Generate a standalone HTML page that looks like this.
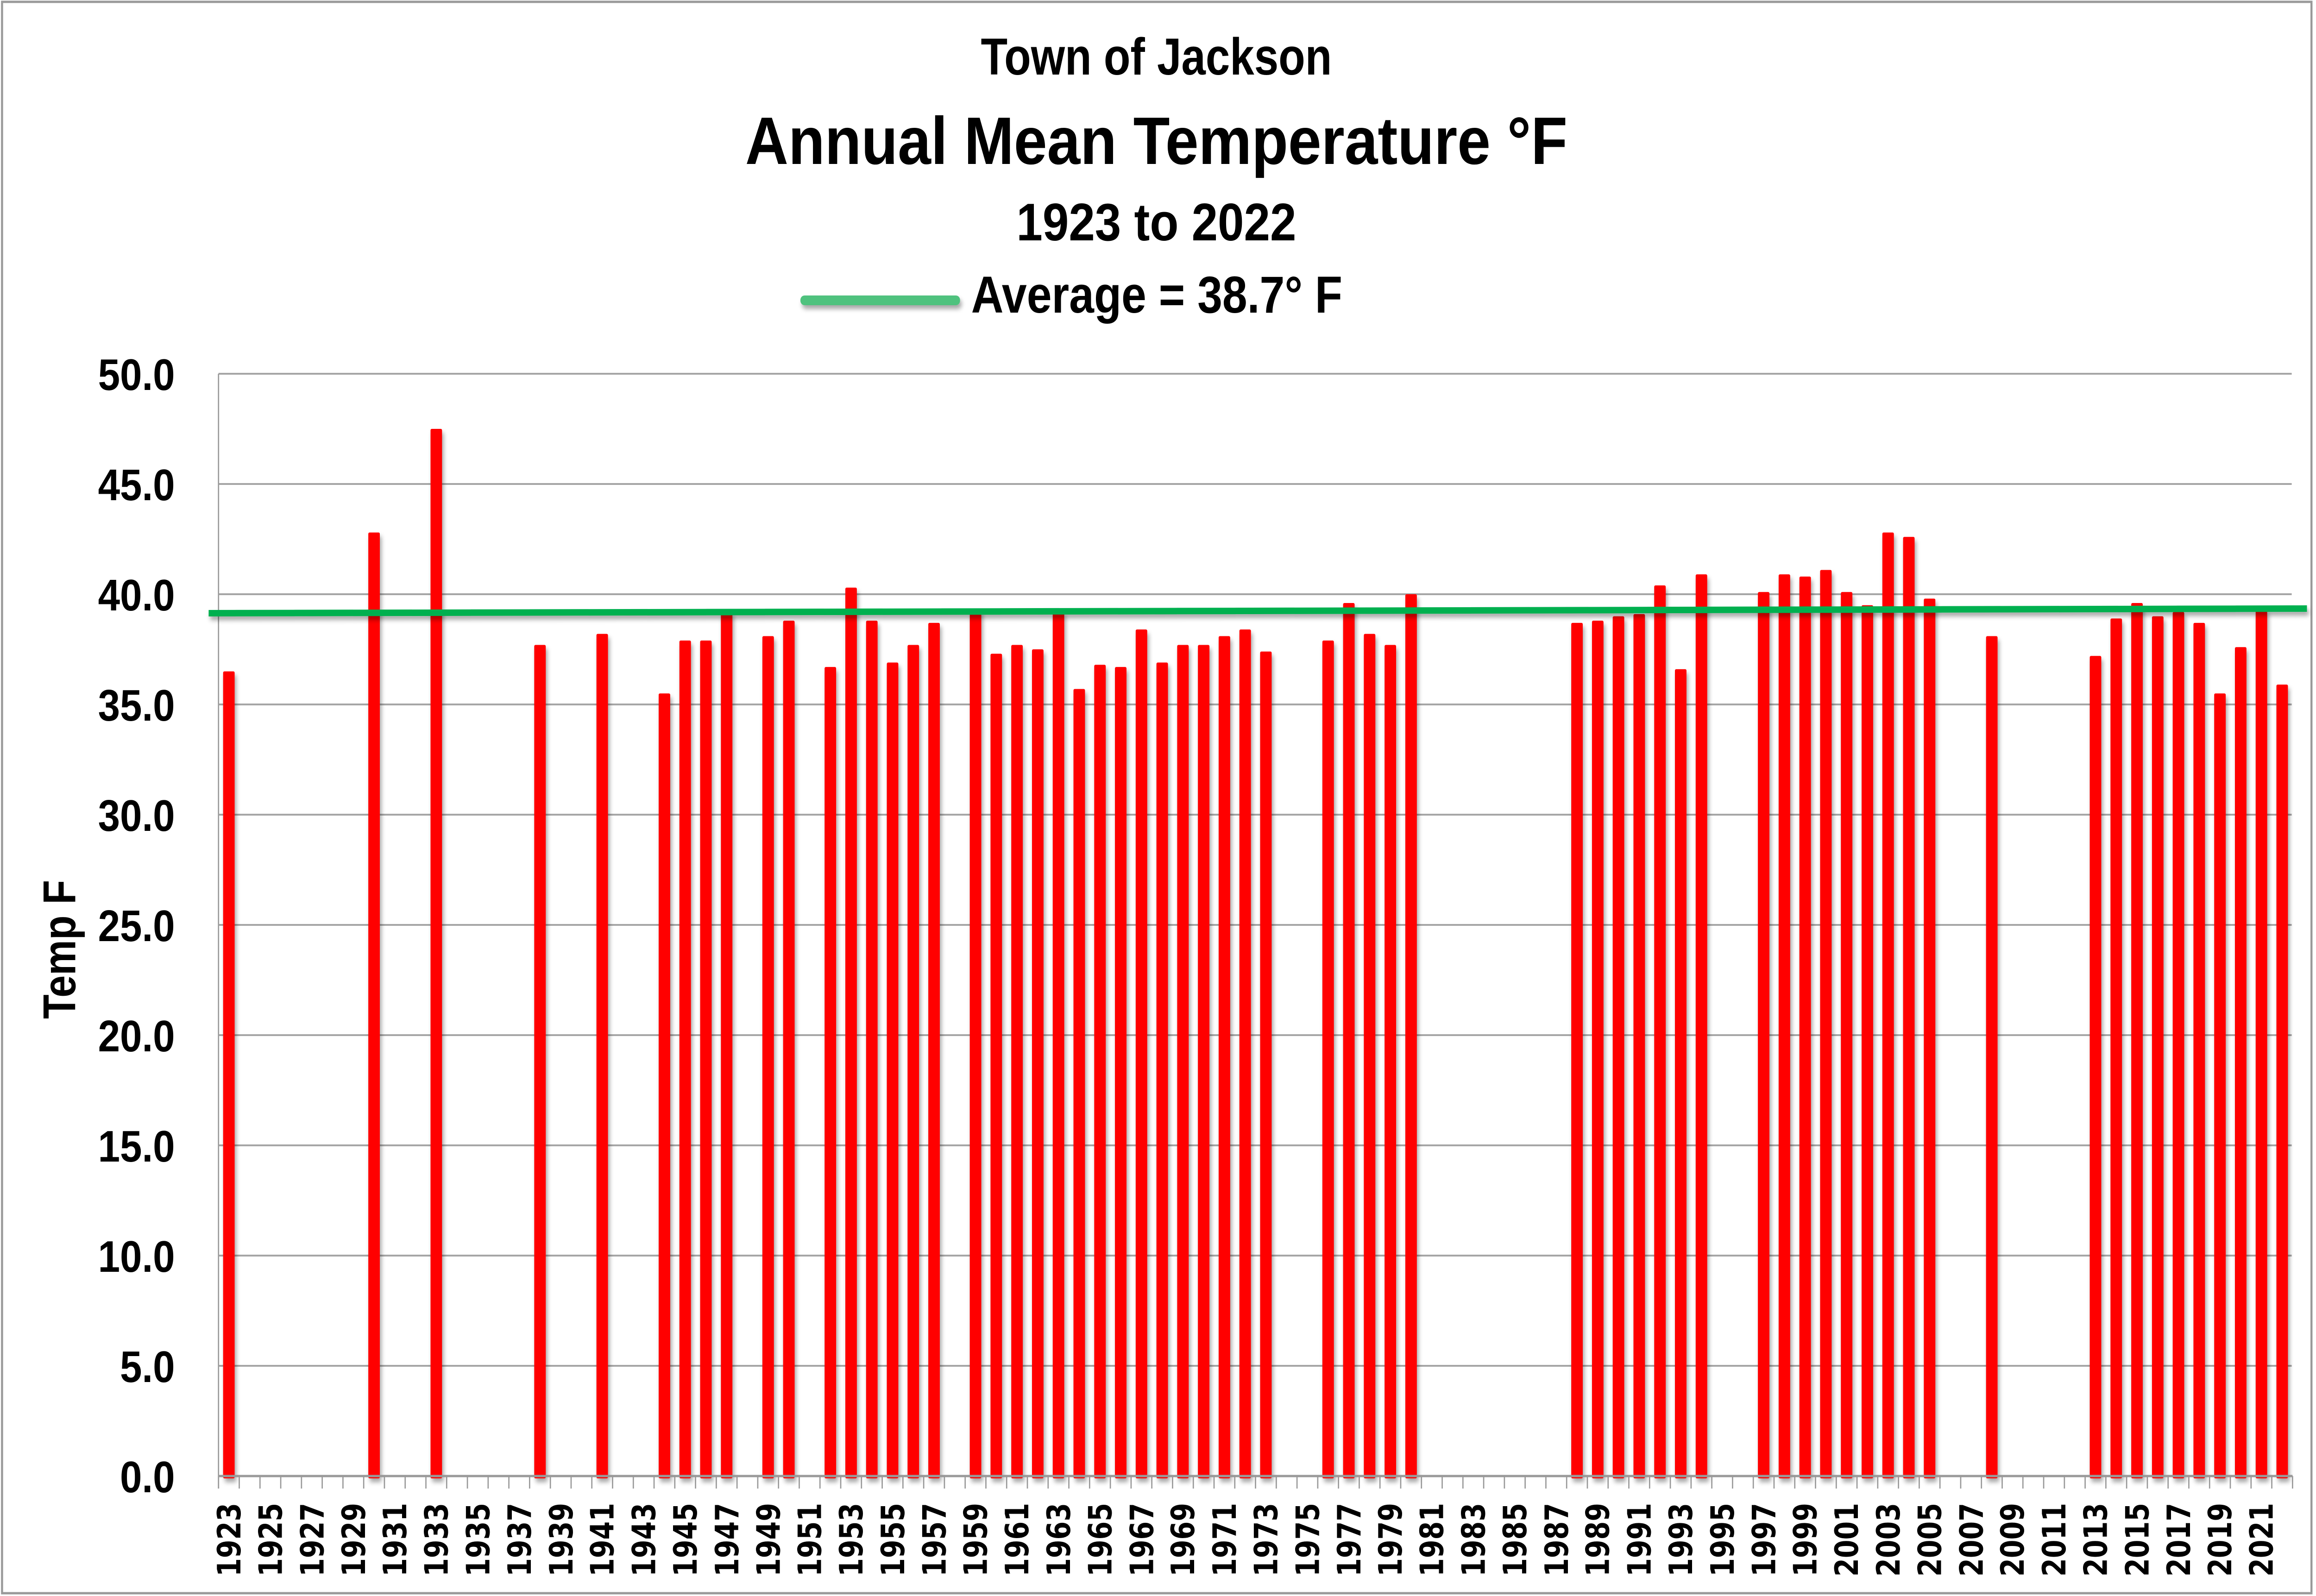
<!DOCTYPE html>
<html><head><meta charset="utf-8"><meta name="viewport" content="width=5628"><style>html,body{margin:0;padding:0;background:#fff;overflow:hidden;width:100%;height:100%}svg{display:block;width:100vw;height:100vh}</style></head>
<body>
<svg viewBox="0 0 5628 3446" preserveAspectRatio="none" xmlns="http://www.w3.org/2000/svg" font-family="Liberation Sans, sans-serif" font-weight="bold">
<defs>
<filter id="sh" filterUnits="userSpaceOnUse" x="0" y="0" width="5628" height="3446"><feDropShadow dx="4" dy="8" stdDeviation="5" flood-color="#000" flood-opacity="0.35"/></filter>
</defs>
<rect x="0" y="0" width="5628" height="3446" fill="#fff"/>
<rect x="5" y="4" width="5612" height="3436" fill="none" stroke="#999" stroke-width="5"/>
<g stroke="#a6a6a6" stroke-width="4">
<line x1="531" y1="807" x2="5569" y2="807"/><line x1="531" y1="1045" x2="5569" y2="1045"/><line x1="531" y1="1283" x2="5569" y2="1283"/><line x1="531" y1="1521" x2="5569" y2="1521"/><line x1="531" y1="1759" x2="5569" y2="1759"/><line x1="531" y1="1997" x2="5569" y2="1997"/><line x1="531" y1="2235" x2="5569" y2="2235"/><line x1="531" y1="2473" x2="5569" y2="2473"/><line x1="531" y1="2711" x2="5569" y2="2711"/><line x1="531" y1="2949" x2="5569" y2="2949"/>
</g>
<line x1="531" y1="807" x2="531" y2="3214" stroke="#999" stroke-width="3"/>
<g id="ticks" stroke="#999" stroke-width="3"></g>
<g id="bars" fill="#ff0000" filter="url(#sh)"></g>
<line x1="531" y1="3187" x2="5571" y2="3187" stroke="#999" stroke-width="5"/>
<polygon points="507,1317 5606,1307 5606,1321 507,1331" fill="#00b050" filter="url(#sh)"/>
<g font-size="96" text-anchor="end" fill="#000">
<text x="425" y="842">50.0</text><text x="425" y="1080">45.0</text><text x="425" y="1318">40.0</text><text x="425" y="1556">35.0</text><text x="425" y="1794">30.0</text><text x="425" y="2032">25.0</text><text x="425" y="2270">20.0</text><text x="425" y="2508">15.0</text><text x="425" y="2746">10.0</text><text x="425" y="2984">5.0</text><text x="425" y="3222">0.0</text>
</g>
<text transform="translate(183,2200) rotate(-90)" font-size="112" textLength="300" lengthAdjust="spacingAndGlyphs">Temp  F</text>
<g text-anchor="middle" fill="#000">
<text x="2810" y="161" font-size="112" textLength="853" lengthAdjust="spacingAndGlyphs">Town of Jackson</text>
<text x="2810" y="354" font-size="145" textLength="1998" lengthAdjust="spacingAndGlyphs">Annual Mean Temperature °F</text>
<text x="2810" y="519" font-size="114" textLength="680" lengthAdjust="spacingAndGlyphs">1923 to 2022</text>
</g>
<rect x="1945" y="638" width="388" height="21" rx="10" fill="#50c27e" filter="url(#sh)"/>
<text x="2360" y="675" font-size="112" textLength="902" lengthAdjust="spacingAndGlyphs">Average = 38.7° F</text>
<g font-family="DejaVu Sans, sans-serif" font-size="78" text-anchor="end" fill="#000">
<text transform="translate(584,3245) rotate(-90)" textLength="159" lengthAdjust="spacingAndGlyphs">1923</text>
<text transform="translate(685,3245) rotate(-90)" textLength="159" lengthAdjust="spacingAndGlyphs">1925</text>
<text transform="translate(786,3245) rotate(-90)" textLength="159" lengthAdjust="spacingAndGlyphs">1927</text>
<text transform="translate(887,3245) rotate(-90)" textLength="159" lengthAdjust="spacingAndGlyphs">1929</text>
<text transform="translate(987,3245) rotate(-90)" textLength="159" lengthAdjust="spacingAndGlyphs">1931</text>
<text transform="translate(1088,3245) rotate(-90)" textLength="159" lengthAdjust="spacingAndGlyphs">1933</text>
<text transform="translate(1189,3245) rotate(-90)" textLength="159" lengthAdjust="spacingAndGlyphs">1935</text>
<text transform="translate(1290,3245) rotate(-90)" textLength="159" lengthAdjust="spacingAndGlyphs">1937</text>
<text transform="translate(1391,3245) rotate(-90)" textLength="159" lengthAdjust="spacingAndGlyphs">1939</text>
<text transform="translate(1491,3245) rotate(-90)" textLength="159" lengthAdjust="spacingAndGlyphs">1941</text>
<text transform="translate(1592,3245) rotate(-90)" textLength="159" lengthAdjust="spacingAndGlyphs">1943</text>
<text transform="translate(1693,3245) rotate(-90)" textLength="159" lengthAdjust="spacingAndGlyphs">1945</text>
<text transform="translate(1794,3245) rotate(-90)" textLength="159" lengthAdjust="spacingAndGlyphs">1947</text>
<text transform="translate(1895,3245) rotate(-90)" textLength="159" lengthAdjust="spacingAndGlyphs">1949</text>
<text transform="translate(1995,3245) rotate(-90)" textLength="159" lengthAdjust="spacingAndGlyphs">1951</text>
<text transform="translate(2096,3245) rotate(-90)" textLength="159" lengthAdjust="spacingAndGlyphs">1953</text>
<text transform="translate(2197,3245) rotate(-90)" textLength="159" lengthAdjust="spacingAndGlyphs">1955</text>
<text transform="translate(2298,3245) rotate(-90)" textLength="159" lengthAdjust="spacingAndGlyphs">1957</text>
<text transform="translate(2398,3245) rotate(-90)" textLength="159" lengthAdjust="spacingAndGlyphs">1959</text>
<text transform="translate(2499,3245) rotate(-90)" textLength="159" lengthAdjust="spacingAndGlyphs">1961</text>
<text transform="translate(2600,3245) rotate(-90)" textLength="159" lengthAdjust="spacingAndGlyphs">1963</text>
<text transform="translate(2701,3245) rotate(-90)" textLength="159" lengthAdjust="spacingAndGlyphs">1965</text>
<text transform="translate(2802,3245) rotate(-90)" textLength="159" lengthAdjust="spacingAndGlyphs">1967</text>
<text transform="translate(2902,3245) rotate(-90)" textLength="159" lengthAdjust="spacingAndGlyphs">1969</text>
<text transform="translate(3003,3245) rotate(-90)" textLength="159" lengthAdjust="spacingAndGlyphs">1971</text>
<text transform="translate(3104,3245) rotate(-90)" textLength="159" lengthAdjust="spacingAndGlyphs">1973</text>
<text transform="translate(3205,3245) rotate(-90)" textLength="159" lengthAdjust="spacingAndGlyphs">1975</text>
<text transform="translate(3306,3245) rotate(-90)" textLength="159" lengthAdjust="spacingAndGlyphs">1977</text>
<text transform="translate(3406,3245) rotate(-90)" textLength="159" lengthAdjust="spacingAndGlyphs">1979</text>
<text transform="translate(3507,3245) rotate(-90)" textLength="159" lengthAdjust="spacingAndGlyphs">1981</text>
<text transform="translate(3608,3245) rotate(-90)" textLength="159" lengthAdjust="spacingAndGlyphs">1983</text>
<text transform="translate(3709,3245) rotate(-90)" textLength="159" lengthAdjust="spacingAndGlyphs">1985</text>
<text transform="translate(3810,3245) rotate(-90)" textLength="159" lengthAdjust="spacingAndGlyphs">1987</text>
<text transform="translate(3910,3245) rotate(-90)" textLength="159" lengthAdjust="spacingAndGlyphs">1989</text>
<text transform="translate(4011,3245) rotate(-90)" textLength="159" lengthAdjust="spacingAndGlyphs">1991</text>
<text transform="translate(4112,3245) rotate(-90)" textLength="159" lengthAdjust="spacingAndGlyphs">1993</text>
<text transform="translate(4213,3245) rotate(-90)" textLength="159" lengthAdjust="spacingAndGlyphs">1995</text>
<text transform="translate(4314,3245) rotate(-90)" textLength="159" lengthAdjust="spacingAndGlyphs">1997</text>
<text transform="translate(4414,3245) rotate(-90)" textLength="159" lengthAdjust="spacingAndGlyphs">1999</text>
<text transform="translate(4515,3245) rotate(-90)" textLength="159" lengthAdjust="spacingAndGlyphs">2001</text>
<text transform="translate(4616,3245) rotate(-90)" textLength="159" lengthAdjust="spacingAndGlyphs">2003</text>
<text transform="translate(4717,3245) rotate(-90)" textLength="159" lengthAdjust="spacingAndGlyphs">2005</text>
<text transform="translate(4818,3245) rotate(-90)" textLength="159" lengthAdjust="spacingAndGlyphs">2007</text>
<text transform="translate(4918,3245) rotate(-90)" textLength="159" lengthAdjust="spacingAndGlyphs">2009</text>
<text transform="translate(5019,3245) rotate(-90)" textLength="159" lengthAdjust="spacingAndGlyphs">2011</text>
<text transform="translate(5120,3245) rotate(-90)" textLength="159" lengthAdjust="spacingAndGlyphs">2013</text>
<text transform="translate(5221,3245) rotate(-90)" textLength="159" lengthAdjust="spacingAndGlyphs">2015</text>
<text transform="translate(5322,3245) rotate(-90)" textLength="159" lengthAdjust="spacingAndGlyphs">2017</text>
<text transform="translate(5422,3245) rotate(-90)" textLength="159" lengthAdjust="spacingAndGlyphs">2019</text>
<text transform="translate(5523,3245) rotate(-90)" textLength="159" lengthAdjust="spacingAndGlyphs">2021</text>
</g>
<script>
(function(){
var NS="http://www.w3.org/2000/svg";
var d={1923:36.5,1930:42.8,1933:47.5,1938:37.7,1941:38.2,1944:35.5,1945:37.9,1946:37.9,1947:39.2,1949:38.1,1950:38.8,1952:36.7,1953:40.3,1954:38.8,1955:36.9,1956:37.7,1957:38.7,1959:39.3,1960:37.3,1961:37.7,1962:37.5,1963:39.2,1964:35.7,1965:36.8,1966:36.7,1967:38.4,1968:36.9,1969:37.7,1970:37.7,1971:38.1,1972:38.4,1973:37.4,1976:37.9,1977:39.6,1978:38.2,1979:37.7,1980:40.0,1988:38.7,1989:38.8,1990:39.0,1991:39.1,1992:40.4,1993:36.6,1994:40.9,1997:40.1,1998:40.9,1999:40.8,2000:41.1,2001:40.1,2002:39.5,2003:42.8,2004:42.6,2005:39.8,2008:38.1,2013:37.2,2014:38.9,2015:39.6,2016:39.0,2017:39.2,2018:38.7,2019:35.5,2020:37.6,2021:39.3,2022:35.9};
var bg=document.getElementById("bars"),tg=document.getElementById("ticks");
for(var i=0;i<=100;i++){var l=document.createElementNS(NS,"line");var x=531+50.4*i;l.setAttribute("x1",x);l.setAttribute("x2",x);l.setAttribute("y1",3187);l.setAttribute("y2",3214);tg.appendChild(l);}
for(var y in d){var i=y-1923;var v=d[y];var top=3187-47.6*v;var r=document.createElementNS(NS,"rect");r.setAttribute("x",531+50.4*i+11.2);r.setAttribute("y",top);r.setAttribute("width",28);r.setAttribute("height",3192-top);r.setAttribute("rx",3);bg.appendChild(r);}
})();
</script>
</svg>
</body></html>
